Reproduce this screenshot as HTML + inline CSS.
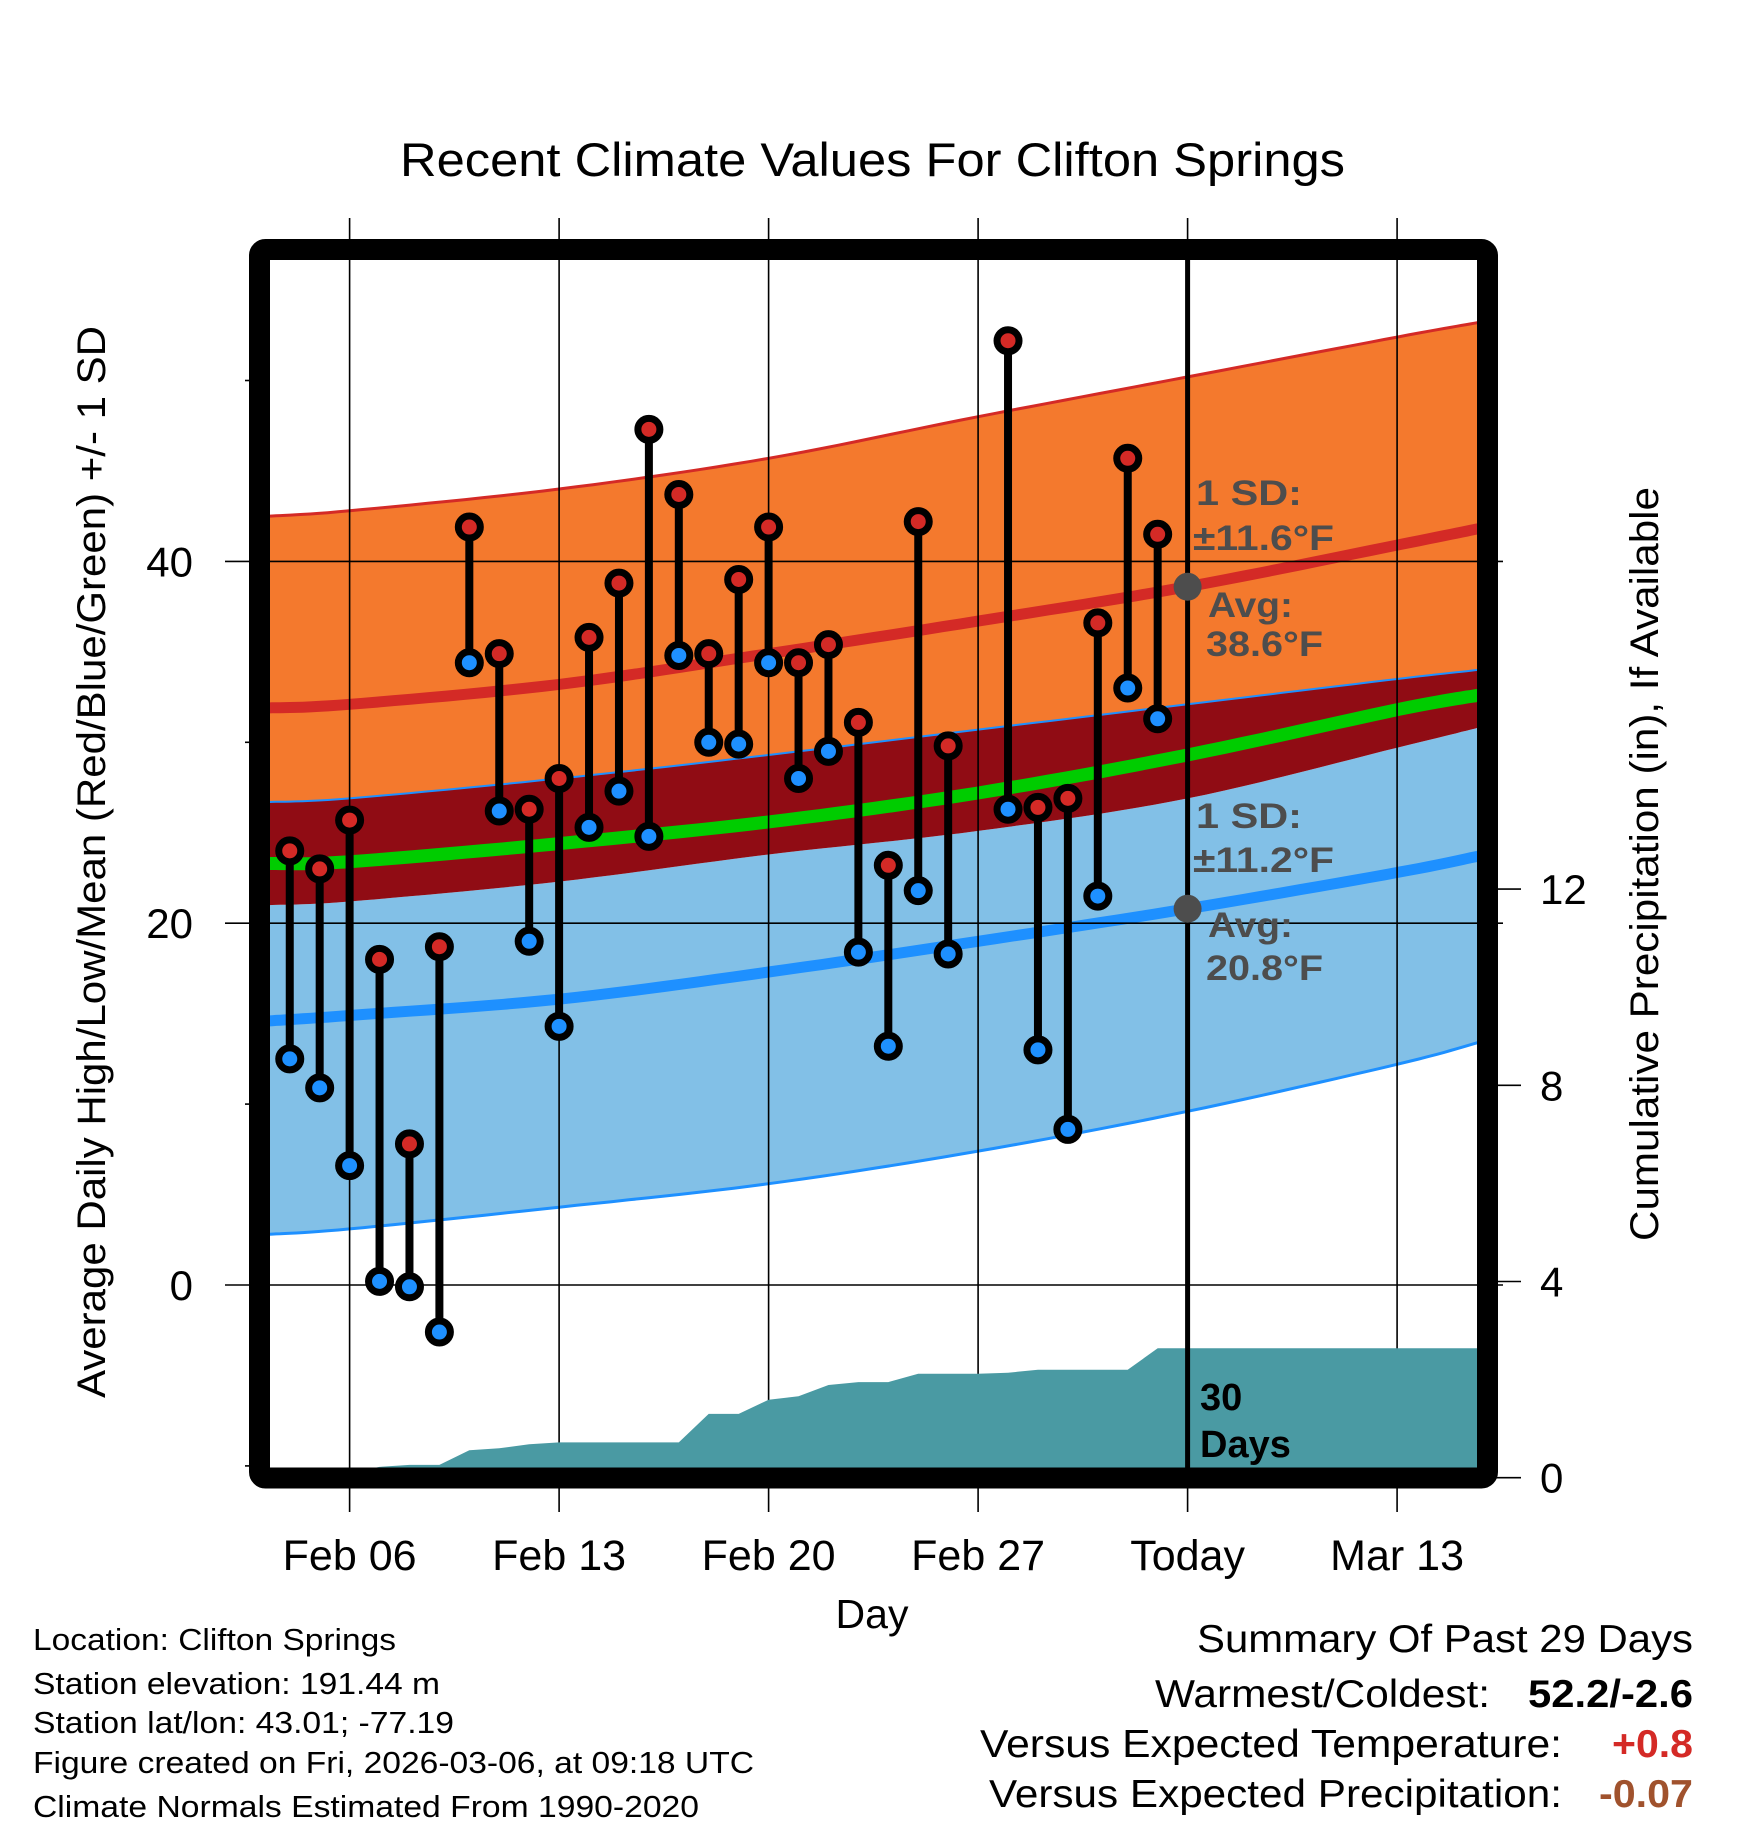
<!DOCTYPE html>
<html><head><meta charset="utf-8"><title>Recent Climate Values For Clifton Springs</title>
<style>html,body{margin:0;padding:0;background:#fff}svg{display:block}text{font-family:"Liberation Sans",Arial,sans-serif}</style>
</head><body>
<svg id="chart" xmlns="http://www.w3.org/2000/svg" width="1748" height="1828" viewBox="0 0 1748 1828">
<defs><clipPath id="plotclip"><rect x="270" y="260" width="1207.6" height="1207.7"/></clipPath></defs>
<rect x="0" y="0" width="1748" height="1828" fill="#fff"/>
<text x="400" y="176" font-size="47" textLength="945" lengthAdjust="spacingAndGlyphs">Recent Climate Values For Clifton Springs</text>
<g id="gridlayer"></g>
<g id="normals" clip-path="url(#plotclip)"></g>
<g id="gridover"></g>
<g id="precip" clip-path="url(#plotclip)"></g>
<g id="obs"></g>
<g id="annot"></g>
<rect x="259.5" y="249.5" width="1228" height="1228.5" fill="none" stroke="#000" stroke-width="21" rx="6"/>
<text x="872" y="1628" font-size="41" text-anchor="middle">Day</text>
<text transform="translate(105,862) rotate(-90)" font-size="40" text-anchor="middle" textLength="1072" lengthAdjust="spacingAndGlyphs">Average Daily High/Low/Mean (Red/Blue/Green) +/- 1 SD</text>
<text transform="translate(1658,864) rotate(-90)" font-size="40" text-anchor="middle" textLength="754" lengthAdjust="spacingAndGlyphs">Cumulative Precipitation (in), If Available</text>
<g font-size="31">
<text x="33" y="1650" textLength="363" lengthAdjust="spacingAndGlyphs">Location: Clifton Springs</text>
<text x="33" y="1694" textLength="407" lengthAdjust="spacingAndGlyphs">Station elevation: 191.44 m</text>
<text x="33" y="1733" textLength="421" lengthAdjust="spacingAndGlyphs">Station lat/lon: 43.01; -77.19</text>
<text x="33" y="1773" textLength="721" lengthAdjust="spacingAndGlyphs">Figure created on Fri, 2026-03-06, at 09:18 UTC</text>
<text x="33" y="1817" textLength="666" lengthAdjust="spacingAndGlyphs">Climate Normals Estimated From 1990-2020</text>
</g>
<g font-size="39">
<text x="1197" y="1652" textLength="496" lengthAdjust="spacingAndGlyphs">Summary Of Past 29 Days</text>
<text x="1155" y="1707" textLength="335" lengthAdjust="spacingAndGlyphs">Warmest/Coldest:</text>
<text x="1528" y="1707" font-weight="bold" textLength="165" lengthAdjust="spacingAndGlyphs">52.2/-2.6</text>
<text x="980" y="1757" textLength="582" lengthAdjust="spacingAndGlyphs">Versus Expected Temperature:</text>
<text x="1612" y="1757" font-weight="bold" fill="#d42a26" textLength="81" lengthAdjust="spacingAndGlyphs">+0.8</text>
<text x="989" y="1807" textLength="573" lengthAdjust="spacingAndGlyphs">Versus Expected Precipitation:</text>
<text x="1599" y="1807" font-weight="bold" fill="#a0522d" textLength="94" lengthAdjust="spacingAndGlyphs">-0.07</text>
</g>
</svg>
<script>
// ---- data ----
const obsDays = [-2,-1,0,1,2,3,4,5,6,7,8,9,10,11,12,13,14,15,16,17,18,19,20,22,23,24,25,26,27];
const highs = [24.0,23.0,25.7,18.0,7.8,18.7,41.9,34.9,26.3,28.0,35.8,38.8,47.3,43.7,34.9,39.0,41.9,34.4,35.4,31.1,23.2,42.2,29.8,52.2,26.4,26.9,36.6,45.7,41.5];
const lows  = [12.5,10.9,6.6,0.2,-0.1,-2.6,34.4,26.2,19.0,14.3,25.3,27.3,24.8,34.8,30.0,29.9,34.4,28.0,29.5,18.4,13.2,21.8,18.3,26.3,13.0,8.6,21.5,33.0,31.3];
const normDays = [-2.7,0,7,14,21,28,35,37.7];
const sdUpper  = [42.5,42.8,44.0,45.7,48.0,50.2,52.4,53.2];
const avgHigh  = [31.9,32.1,33.2,34.9,36.7,38.6,40.9,41.8];
const meanTop  = [26.7,26.9,28.0,29.3,30.7,32.1,33.5,34.0];
const meanAvg  = [23.3,23.4,24.4,25.6,27.2,29.3,31.8,32.6];
const meanBot  = [21.0,21.2,22.3,23.8,25.1,26.9,29.7,30.8];
const avgLow   = [14.6,14.9,15.8,17.3,19.0,20.8,22.8,23.7];
const sdLower  = [2.8,3.1,4.3,5.6,7.4,9.6,12.2,13.4];
const precipDays = [-2,-1,0,1,2,3,4,5,6,7,8,9,10,11,12,13,14,15,16,17,18,19,20,21,22,23,24,25,26,27];
const precipVals = [0,0,0.1,0.22,0.26,0.26,0.56,0.6,0.68,0.72,0.72,0.72,0.72,0.72,1.3,1.3,1.59,1.66,1.89,1.95,1.95,2.12,2.12,2.12,2.14,2.2,2.2,2.2,2.2,2.64];
const xTickDays = [0,7,14,21,28,35];
const xTickLabels = ["Feb 06","Feb 13","Feb 20","Feb 27","Today","Mar 13"];
const yMajor = [0,20,40];
const yMinor = [-10,10,30,50];
const y2Ticks = [0,4,8,12];
const todayDay = 28;
const todayHigh = 38.6, todayLow = 20.8;

// ---- axes ----
const X0=270, X1=1477.6, D0=-2.66, D1=37.69;
const x = d => X0 + (d-D0)/(D1-D0)*(X1-X0);
const y = t => 1285 - t*18.09;
const y2 = p => 1477.7 - p*49.05;
const NS="http://www.w3.org/2000/svg";
function mk(tag, attrs, parent){const e=document.createElementNS(NS,tag);for(const k in attrs)e.setAttribute(k,attrs[k]);parent.appendChild(e);return e;}
const grid=document.getElementById('gridlayer'), gov=document.getElementById('gridover');
const norms=document.getElementById('normals'), pr=document.getElementById('precip');
const obs=document.getElementById('obs'), an=document.getElementById('annot');
const svg=document.getElementById('chart');

// smooth Catmull-Rom path through points (sampled)
function smooth(days, vals){
  const P=days.map((d,i)=>[x(d),y(vals[i])]);
  const out=[];
  for(let i=0;i<P.length-1;i++){
    const p0=P[Math.max(0,i-1)],p1=P[i],p2=P[i+1],p3=P[Math.min(P.length-1,i+2)];
    for(let s=0;s<12;s++){
      const t=s/12,t2=t*t,t3=t2*t;
      const f=(a,b,c,d)=>0.5*((2*b)+(-a+c)*t+(2*a-5*b+4*c-d)*t2+(-a+3*b-3*c+d)*t3);
      out.push([f(p0[0],p1[0],p2[0],p3[0]),f(p0[1],p1[1],p2[1],p3[1])]);
    }
  }
  out.push(P[P.length-1]);
  return out;
}
const fmt=a=>a.map(p=>p[0].toFixed(1)+','+p[1].toFixed(1));
function band(top, bot){return fmt(smooth(normDays,top)).concat(fmt(smooth(normDays,bot)).reverse()).join(' ');}

let p;
p=mk('polygon',{points:band(sdUpper,meanTop),fill:'#f4792d'},norms);


p=mk('polygon',{points:band(meanBot,sdLower),fill:'#82c0e7'},norms);


p=mk('polygon',{points:band(meanTop,meanBot),fill:'#900c14'},norms);


const lines=[[sdUpper,'#d42a26',3,'high-sd-upper-line'],[avgHigh,'#d42a26',11,'avg-high-line'],[meanTop,'#1e90ff',2,'mean-sd-upper-line'],[meanAvg,'#00cc00',13,'mean-line'],[avgLow,'#1e90ff',11,'avg-low-line'],[sdLower,'#1e90ff',3,'low-sd-lower-line']];
lines.forEach(l=>{
  const e=mk('polyline',{points:fmt(smooth(normDays,l[0])).join(' '),fill:'none',stroke:l[1],'stroke-width':l[2]},norms);
  
  
});

// grid + ticks
xTickDays.forEach((d,i)=>{
  const g=mk('line',{x1:x(d),x2:x(d),y1:218,y2:1512,stroke:'#000','stroke-width':1.6},gov);
  
  
  const t=mk('text',{x:x(d),y:1570,'font-size':43,'text-anchor':'middle'},svg);
  t.textContent=xTickLabels[i];
  
  
});
yMajor.forEach(v=>{
  const g=mk('line',{x1:225,x2:1503,y1:y(v),y2:y(v),stroke:'#000','stroke-width':1.6},gov);
  
  
  const t=mk('text',{x:193,y:y(v)+15,'font-size':42,'text-anchor':'end'},svg);
  t.textContent=v;
  
  
});
yMinor.forEach(v=>{
  const g=mk('line',{x1:245,x2:260,y1:y(v),y2:y(v),stroke:'#000','stroke-width':1.6},grid);
  
  
});
y2Ticks.forEach(v=>{
  const g=mk('line',{x1:1487,x2:1521,y1:y2(v),y2:y2(v),stroke:'#000','stroke-width':1.6},grid);
  
  
  const t=mk('text',{x:1540,y:y2(v)+15,'font-size':42},svg);
  t.textContent=v;
  
  
});

// precipitation
const pp=precipDays.map((d,i)=>x(d).toFixed(1)+','+y2(precipVals[i]).toFixed(1));
pp.push(x(D1).toFixed(1)+','+y2(precipVals[precipVals.length-1]).toFixed(1));
pp.push(x(D1).toFixed(1)+','+y2(0).toFixed(1));
pp.push(x(precipDays[0]).toFixed(1)+','+y2(0).toFixed(1));
p=mk('polygon',{points:pp.join(' '),fill:'#4a9aa3'},pr);



// today line
p=mk('line',{x1:x(todayDay),x2:x(todayDay),y1:260,y2:1468,stroke:'#000','stroke-width':5},an);



// observations
obsDays.forEach((d,i)=>{
  const s=mk('line',{x1:x(d),x2:x(d),y1:y(highs[i]),y2:y(lows[i]),stroke:'#000','stroke-width':8},obs);
  
  
});
obsDays.forEach((d,i)=>{
  const h=mk('circle',{cx:x(d),cy:y(highs[i]),r:11,fill:'#d42a26',stroke:'#000','stroke-width':7},obs);
  
  
  const l=mk('circle',{cx:x(d),cy:y(lows[i]),r:11,fill:'#1e90ff',stroke:'#000','stroke-width':7},obs);
  
  
});

// annotations
[[todayHigh,'today-avg-high-dot'],[todayLow,'today-avg-low-dot']].forEach(a=>{
  const c=mk('circle',{cx:x(todayDay),cy:y(a[0]),r:14,fill:'#4d4d4d'},an);
  
  
});
const labels=[["1 SD:",1196,505,'high-sd-label',106],["±11.6°F",1193,550,'high-sd-value',141],["Avg:",1208,617,'avg-high-label',85],["38.6°F",1206,656,'avg-high-value',117],
["1 SD:",1196,828,'low-sd-label',106],["±11.2°F",1193,872,'low-sd-value',141],["Avg:",1208,937,'avg-low-label',85],["20.8°F",1206,980,'avg-low-value',117]];
labels.forEach(l=>{
  const t=mk('text',{x:l[1],y:l[2],'font-size':35,'font-weight':'bold',fill:'#4d4d4d',textLength:l[4],lengthAdjust:'spacingAndGlyphs'},an);
  t.textContent=l[0];
  
  
});
[["30",1410,'days-count-label'],["Days",1457,'days-word-label']].forEach(l=>{
  const t=mk('text',{x:1200,y:l[1],'font-size':38,'font-weight':'bold',fill:'#000'},an);
  t.textContent=l[0];
  
  
});
</script>
</body></html>
